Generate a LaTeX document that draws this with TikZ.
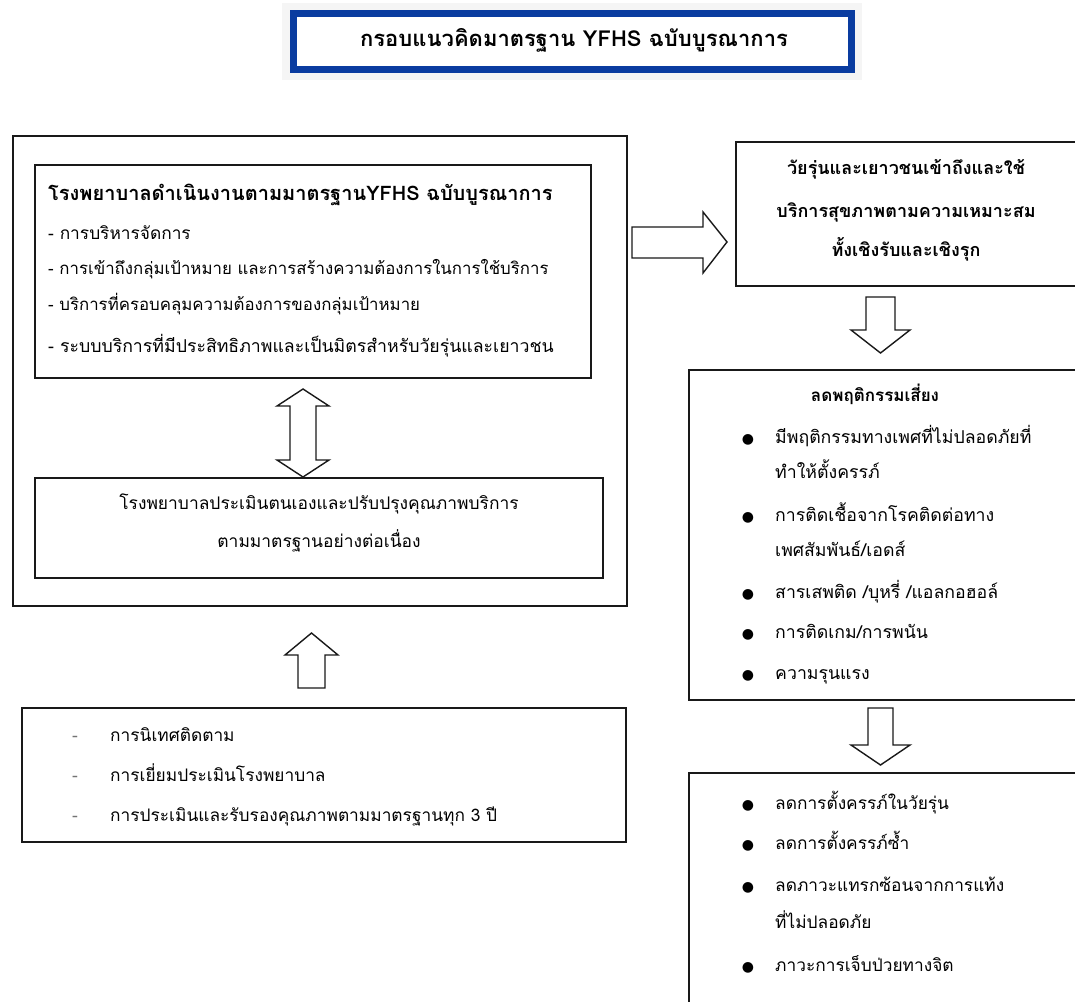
\documentclass[tikz,border=0pt]{standalone}
\usepackage{fontspec}
\setmainfont{Loma}[Script=Thai]
\newfontfamily\symfont{DejaVu Sans}
\definecolor{frameblue}{RGB}{10,60,160}
\definecolor{boxline}{RGB}{25,25,25}
\begin{document}
\begin{tikzpicture}[x=1pt,y=-1pt,
  box/.style={draw=boxline,line width=1.4pt,inner sep=0pt},
  blockarrow/.style={draw=boxline,line width=1.4pt,fill=white,line join=miter},
  txt/.style={anchor=base west,inner sep=0pt,font=\fontsize{17.3}{20}\selectfont},
  ctxt/.style={anchor=base,inner sep=0pt,font=\fontsize{17.4}{20}\selectfont},
  btxt/.style={anchor=base,inner sep=0pt,font=\fontsize{18}{21}\selectfont\bfseries},
  bul/.style={anchor=base,inner sep=0pt,font=\fontsize{14}{16}\selectfont\symfont}]
\useasboundingbox (0,0) rectangle (1075,1001);
\clip (0,0) rectangle (1075,1001);
% title
\fill[black!4] (282,3) rectangle (862,80);
\node[draw=frameblue,line width=7pt,fill=white,minimum width=558pt,minimum height=56pt,inner sep=0pt] (title) at (572.5,41.5) {};
\node[anchor=base,inner sep=0pt,font=\fontsize{22}{24}\selectfont\bfseries] (titletext) at (574,46) {กรอบแนวคิดมาตรฐาน YFHS ฉบับบูรณาการ};
% left outer box
\node[box,minimum width=614pt,minimum height=470pt] (outer) at (320,371) {};
\node[box,minimum width=556pt,minimum height=213pt] (inner1) at (313,271.5) {};
\node[box,minimum width=568pt,minimum height=100pt] (inner2) at (319,528) {};
\node[txt,font=\fontsize{20}{23}\selectfont\bfseries] (h1) at (48,200) {โรงพยาบาลดำเนินงานตามมาตรฐานYFHS ฉบับบูรณาการ};
\node[txt] (a1) at (48,239) {- การบริหารจัดการ};
\node[txt,font=\fontsize{16.8}{20}\selectfont] (a2) at (48,274) {- การเข้าถึงกลุ่มเป้าหมาย และการสร้างความต้องการในการใช้บริการ};
\node[txt,font=\fontsize{16.8}{20}\selectfont] (a3) at (48,310) {- บริการที่ครอบคลุมความต้องการของกลุ่มเป้าหมาย};
\node[txt,font=\fontsize{17.7}{20}\selectfont] (a4) at (48,352) {- ระบบบริการที่มีประสิทธิภาพและเป็นมิตรสำหรับวัยรุ่นและเยาวชน};
\node[ctxt] (b1) at (319,509) {โรงพยาบาลประเมินตนเองและปรับปรุงคุณภาพบริการ};
\node[ctxt] (b2) at (319,547) {ตามมาตรฐานอย่างต่อเนื่อง};
% double arrow
\draw[blockarrow] (303,389) -- (329,406) -- (316,406) -- (316,460) -- (329,460) -- (303,477)
  -- (277,460) -- (290,460) -- (290,406) -- (277,406) -- cycle;
% up arrow
\draw[blockarrow] (311.5,633) -- (338,655) -- (325,655) -- (325,688) -- (298,688) -- (298,655) -- (285,655) -- cycle;
% bottom left box
\node[box,minimum width=604pt,minimum height=134pt] (sup) at (324,775) {};
\node[txt,text=black!55] (d1) at (72,741) {-};
\node[txt] (c1) at (110,741) {การนิเทศติดตาม};
\node[txt,text=black!55] (d2) at (72,781) {-};
\node[txt] (c2) at (110,781) {การเยี่ยมประเมินโรงพยาบาล};
\node[txt,text=black!55] (d3) at (72,821) {-};
\node[txt] (c3) at (110,821) {การประเมินและรับรองคุณภาพตามมาตรฐานทุก 3 ปี};
% right arrow
\draw[blockarrow] (632,227) -- (703,227) -- (703,212) -- (727,242) -- (703,273) -- (703,258) -- (632,258) -- cycle;
% right top box
\node[box,minimum width=360pt,minimum height=144pt] (access) at (916,214) {};
\node[btxt] (r1) at (906,174) {วัยรุ่นและเยาวชนเข้าถึงและใช้};
\node[btxt] (r2) at (906,217) {บริการสุขภาพตามความเหมาะสม};
\node[btxt] (r3) at (906,256) {ทั้งเชิงรับและเชิงรุก};
% down arrow 1
\draw[blockarrow] (866,297) -- (895,297) -- (895,330) -- (910,330) -- (880.5,353) -- (851,330) -- (866,330) -- cycle;
% middle right box
\node[box,minimum width=400pt,minimum height=330pt] (risk) at (889,535) {};
\node[btxt,font=\fontsize{17}{20}\selectfont\bfseries] (rh) at (875,401) {ลดพฤติกรรมเสี่ยง};
\node[bul] (p1) at (748,443) {●};
\node[txt,font=\fontsize{17.7}{20}\selectfont] (q1) at (775,443) {มีพฤติกรรมทางเพศที่ไม่ปลอดภัยที่};
\node[txt,font=\fontsize{17.7}{20}\selectfont] (q1b) at (775,478) {ทำให้ตั้งครรภ์};
\node[bul] (p2) at (748,521) {●};
\node[txt,font=\fontsize{17.7}{20}\selectfont] (q2) at (775,521) {การติดเชื้อจากโรคติดต่อทาง};
\node[txt,font=\fontsize{17.7}{20}\selectfont] (q2b) at (775,556) {เพศสัมพันธ์/เอดส์};
\node[bul] (p3) at (748,598) {●};
\node[txt,font=\fontsize{17.7}{20}\selectfont] (q3) at (775,598) {สารเสพติด /บุหรี่ /แอลกอฮอล์};
\node[bul] (p4) at (748,638) {●};
\node[txt,font=\fontsize{17.7}{20}\selectfont] (q4) at (775,638) {การติดเกม/การพนัน};
\node[bul] (p5) at (748,679) {●};
\node[txt,font=\fontsize{17.7}{20}\selectfont] (q5) at (775,679) {ความรุนแรง};
% down arrow 2
\draw[blockarrow] (868,708) -- (893,708) -- (893,745) -- (910,745) -- (880.5,765) -- (851,745) -- (868,745) -- cycle;
% bottom right box
\node[box,minimum width=400pt,minimum height=260pt] (outcome) at (889,903) {};
\node[bul] (o1) at (748,809) {●};
\node[txt] (s1) at (775,809) {ลดการตั้งครรภ์ในวัยรุ่น};
\node[bul] (o2) at (748,849) {●};
\node[txt] (s2) at (775,849) {ลดการตั้งครรภ์ซ้ำ};
\node[bul] (o3) at (748,891) {●};
\node[txt] (s3) at (775,891) {ลดภาวะแทรกซ้อนจากการแท้ง};
\node[txt] (s3b) at (775,928) {ที่ไม่ปลอดภัย};
\node[bul] (o4) at (748,971) {●};
\node[txt] (s4) at (775,971) {ภาวะการเจ็บป่วยทางจิต};
\end{tikzpicture}
\end{document}
